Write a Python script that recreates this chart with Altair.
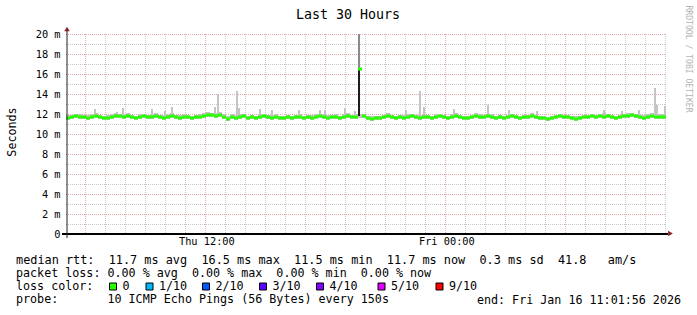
import altair as alt
import pandas as pd

# ---------------- data ----------------
# median RTT in ms, one value per 12-minute step, 30 hours
median = [
    11.6, 11.7, 11.8, 11.7, 11.7, 11.6, 11.7, 11.8, 11.7, 11.6,
    11.6, 11.7, 11.8, 11.8, 11.7, 11.8, 11.7, 11.6, 11.7, 11.8,
    11.7, 11.7, 11.8, 11.7, 11.6, 11.7, 11.8, 11.7, 11.6, 11.7,
    11.7, 11.6, 11.7, 11.7, 11.8, 11.9, 11.9, 11.8, 11.9, 11.7,
    11.5, 11.7, 11.6, 11.7, 11.8, 11.6, 11.7, 11.6, 11.7, 11.8,
    11.7, 11.6, 11.7, 11.6, 11.6, 11.7, 11.6, 11.7, 11.7, 11.6,
    11.7, 11.6, 11.7, 11.8, 11.7, 11.6, 11.7, 11.7, 11.6, 11.7,
    11.8, 11.7, 11.7, 16.5, 11.8, 11.6, 11.5, 11.6, 11.6, 11.7,
    11.8, 11.7, 11.6, 11.7, 11.6, 11.7, 11.8, 11.7, 11.6, 11.7,
    11.7, 11.6, 11.7, 11.8, 11.7, 11.6, 11.7, 11.8, 11.7, 11.6,
    11.6, 11.7, 11.8, 11.7, 11.7, 11.8, 11.7, 11.6, 11.7, 11.6,
    11.7, 11.8, 11.7, 11.6, 11.7, 11.7, 11.8, 11.7, 11.6, 11.6,
    11.5, 11.6, 11.7, 11.8, 11.7, 11.7, 11.6, 11.5, 11.6, 11.7,
    11.7, 11.8, 11.7, 11.8, 11.7, 11.8, 11.7, 11.6, 11.7, 11.8,
    11.8, 11.9, 11.8, 11.7, 11.6, 11.7, 11.8, 11.7, 11.7, 11.7,
]
smoke_lo = [
    11.4, 11.5, 11.6, 11.5, 11.5, 11.4, 11.5, 11.6, 11.5, 11.4,
    11.4, 11.5, 11.6, 11.6, 11.5, 11.6, 11.5, 11.4, 11.5, 11.6,
    11.5, 11.5, 11.6, 11.5, 11.4, 11.5, 11.6, 11.5, 11.4, 11.5,
    11.5, 11.4, 11.5, 11.5, 11.6, 11.7, 11.7, 11.6, 11.7, 11.5,
    11.3, 11.5, 11.4, 11.5, 11.6, 11.4, 11.5, 11.4, 11.5, 11.6,
    11.5, 11.4, 11.5, 11.4, 11.4, 11.5, 11.4, 11.5, 11.5, 11.4,
    11.5, 11.4, 11.5, 11.6, 11.5, 11.4, 11.5, 11.5, 11.4, 11.5,
    11.6, 11.5, 11.5, 11.6, 11.6, 11.4, 11.3, 11.4, 11.4, 11.5,
    11.6, 11.5, 11.4, 11.5, 11.4, 11.5, 11.6, 11.5, 11.4, 11.5,
    11.5, 11.4, 11.5, 11.6, 11.5, 11.4, 11.5, 11.6, 11.5, 11.4,
    11.4, 11.5, 11.6, 11.5, 11.5, 11.6, 11.5, 11.4, 11.5, 11.4,
    11.5, 11.6, 11.5, 11.4, 11.5, 11.5, 11.6, 11.5, 11.4, 11.4,
    11.3, 11.4, 11.5, 11.6, 11.5, 11.5, 11.4, 11.3, 11.4, 11.5,
    11.5, 11.6, 11.5, 11.6, 11.5, 11.6, 11.5, 11.4, 11.5, 11.6,
    11.6, 11.7, 11.6, 11.5, 11.4, 11.5, 11.6, 11.5, 11.5, 11.5,
]
smoke_hi = [
    11.9, 11.9, 12.0, 12.0, 11.9, 11.9, 12.0, 12.1, 11.9, 11.8,
    11.9, 12.0, 12.1, 12.0, 12.0, 12.1, 11.9, 11.8, 12.0, 12.0,
    11.9, 12.0, 12.1, 11.9, 11.9, 12.0, 12.1, 11.9, 11.9, 12.0,
    11.9, 11.8, 11.9, 12.0, 12.1, 12.2, 12.1, 12.1, 12.2, 12.0,
    11.8, 12.0, 11.9, 12.0, 12.0, 11.8, 11.9, 11.8, 12.0, 12.0,
    11.9, 11.9, 12.0, 11.8, 11.8, 11.9, 11.8, 11.9, 12.0, 11.8,
    11.9, 11.9, 12.0, 12.0, 12.0, 11.9, 11.9, 12.0, 11.8, 12.0,
    12.1, 11.9, 12.0, 12.0, 12.0, 11.8, 11.8, 11.8, 11.8, 11.9,
    12.1, 11.9, 11.8, 11.9, 11.9, 12.0, 12.0, 11.9, 11.9, 12.0,
    11.9, 11.8, 12.0, 12.0, 11.9, 11.8, 12.0, 12.1, 11.9, 11.8,
    11.8, 11.9, 12.1, 12.0, 11.9, 12.0, 12.0, 11.8, 11.9, 11.8,
    11.9, 12.0, 11.9, 11.8, 11.9, 11.9, 12.1, 11.9, 11.8, 11.8,
    11.7, 11.8, 11.9, 12.0, 11.9, 11.9, 11.8, 11.8, 11.8, 11.9,
    11.9, 12.0, 11.9, 12.0, 12.1, 12.0, 11.9, 11.8, 11.9, 12.0,
    12.1, 12.1, 12.0, 11.9, 11.9, 12.0, 12.1, 12.0, 12.0, 12.0,
]
# narrow smoke peaks: minutes since start, top of the peak (ms)
peak_minutes = [87, 153, 171, 258, 297, 318, 447, 456, 513, 519, 582, 618, 699,
                762, 777, 837, 867, 1020, 1062, 1074, 1164, 1266, 1329, 1413,
                1614, 1668, 1719, 1767, 1773, 1797]
peak_tops = [12.5, 12.2, 12.6, 12.5, 12.3, 12.7, 12.7, 14.0, 14.3, 12.6, 12.5, 12.4, 12.4,
             12.4, 12.4, 12.6, 12.3, 12.4, 14.3, 12.7, 12.5, 12.9, 12.4, 12.3,
             12.4, 12.3, 12.4, 14.6, 12.9, 12.8]
# the one big outlier
spike_minute = [879]
spike_base = [11.8]
spike_dense_top = [16.5]
spike_max = [20.0]

y_tick_values = [0, 2, 4, 6, 8, 10, 12, 14, 16, 18, 20]
x_tick_labels = ["Thu 12:00", "Fri 00:00"]
x_tick_minutes = [418.07, 1138.07]   # 12:00 and 00:00 after start 05:01:56

loss_labels = ["0", "1/10", "2/10", "3/10", "4/10", "5/10", "9/10"]
loss_colors = ["#26ff00", "#00b8ff", "#0059ff", "#5e00ff", "#7e00ff", "#dd00ff", "#ff0000"]

legend_lines = [
    "median rtt:  11.7 ms avg  16.5 ms max  11.5 ms min  11.7 ms now  0.3 ms sd  41.8   am/s",
    "packet loss: 0.00 % avg  0.00 % max  0.00 % min  0.00 % now",
    "loss color:",
    "probe:       10 ICMP Echo Pings (56 Bytes) every 150s",
]
end_text = "end: Fri Jan 16 11:01:56 2026"
title_text = "Last 30 Hours"
y_title = "Seconds"
watermark = "RRDTOOL / TOBI OETIKER"

# ---------------- layout ----------------
L, T = 66, 34          # plot origin in the page
W, H = 600, 200
MONO = "DejaVu Sans Mono"
STEP = 12              # minutes per sample
legend_square_px = [109.5, 146, 202.5, 259.5, 316.5, 378, 436]

xs = alt.Scale(domain=[0, 1800], nice=False, zero=False)
ys = alt.Scale(domain=[0, 20], nice=False, zero=False)


def X(f, **kw):
    return alt.X(f, type="quantitative", scale=xs, axis=None, **kw)


def Y(f, **kw):
    return alt.Y(f, type="quantitative", scale=ys, axis=None, **kw)


n = len(median)
series = pd.DataFrame({
    "t0": [i * STEP for i in range(n)],
    "t1": [(i + 1) * STEP for i in range(n)],
    "med": median, "lo": smoke_lo, "hi": smoke_hi,
})
peaks = pd.DataFrame({"t": peak_minutes, "top": peak_tops})
spike = pd.DataFrame({"t": spike_minute, "base": spike_base,
                      "dense": spike_dense_top, "max": spike_max})

# grid
hgrid = pd.DataFrame({"v": list(range(1, 21))})
hgrid["major"] = hgrid["v"] % 2 == 0
first_hour = 60 - (1 + 56 / 60)   # 06:00 Thu in minutes after start
vgrid = pd.DataFrame({"t": [first_hour + 60 * k for k in range(30)],
                      "major": [(6 + k) % 6 == 0 for k in range(30)]})

DASH = [1, 1]
h_minor = alt.Chart(hgrid[~hgrid["major"]]).mark_rule(
    color="#c8c8c8", strokeDash=DASH, strokeWidth=1, yOffset=0.5).encode(
    y=Y("v"), x=alt.value(0), x2=alt.value(W))
v_minor = alt.Chart(vgrid[~vgrid["major"]]).mark_rule(
    color="#c8c8c8", strokeDash=DASH, strokeWidth=1, xOffset=0.14).encode(
    x=X("t"), y=alt.value(0), y2=alt.value(H))
h_major = alt.Chart(hgrid[hgrid["major"]]).mark_rule(
    color="#e6a8a8", strokeDash=DASH, strokeWidth=1, yOffset=0.5).encode(
    y=Y("v"), x=alt.value(0), x2=alt.value(W))
v_major = alt.Chart(vgrid[vgrid["major"]]).mark_rule(
    color="#e6a8a8", strokeDash=DASH, strokeWidth=1, xOffset=0.14).encode(
    x=X("t"), y=alt.value(0), y2=alt.value(H))

smoke = alt.Chart(series).mark_rect(color="#c4c4c4").encode(
    x=X("t0"), x2="t1", y=Y("lo"), y2="hi")
peak_marks = alt.Chart(peaks).mark_rule(color="#c4c4c4", strokeWidth=2).encode(
    x=X("t"), y=Y("top"), y2=alt.datum(11.7))
spike_top = alt.Chart(spike).mark_rule(color="#8a8a8a", strokeWidth=2).encode(
    x=X("t"), y=Y("max"), y2="dense")
spike_dense = alt.Chart(spike).mark_rule(color="#1c1c1c", strokeWidth=2).encode(
    x=X("t"), y=Y("base"), y2="dense")
med = alt.Chart(series).transform_calculate(
    a="datum.med - 0.15", b="datum.med + 0.15").mark_rect(color=loss_colors[0]).encode(
    x=X("t0"), x2="t1", y=Y("a:Q"), y2="b:Q")

# axes
x_axis = alt.Chart(pd.DataFrame({"k": [0]})).mark_rule(color="black", strokeWidth=2).encode(
    x=alt.value(-4), x2=alt.value(602), y=alt.value(H))
y_axis = alt.Chart(pd.DataFrame({"k": [0]})).mark_rule(color="#202020", strokeWidth=1).encode(
    x=alt.value(1), y=alt.value(-4), y2=alt.value(H + 4))
arrow_x = alt.Chart(pd.DataFrame({"k": [0]})).mark_point(
    shape="triangle-right", filled=True, size=30, color="#8b2020", opacity=1).encode(
    x=alt.value(604.5), y=alt.value(H - 0.5))
arrow_y = alt.Chart(pd.DataFrame({"k": [0]})).mark_point(
    shape="triangle-up", filled=True, size=30, color="#8b2020", opacity=1).encode(
    x=alt.value(1), y=alt.value(-5))

NB = "\u00a0"
ylab = pd.DataFrame({"v": y_tick_values,
                     "lab": [(f"{v}{NB}m" if v else f"0{NB}{NB}") for v in y_tick_values]})
y_labels = alt.Chart(ylab).mark_text(
    font=MONO, fontSize=10.3, align="right", baseline="middle", color="black", dy=0.5).encode(
    y=Y("v"), x=alt.value(-5.5), text="lab:N")
xlab = pd.DataFrame({"t": x_tick_minutes, "lab": x_tick_labels})
x_labels = alt.Chart(xlab).mark_text(
    font=MONO, fontSize=10.3, align="center", baseline="alphabetic", color="black", dx=1.5).encode(
    x=X("t"), y=alt.value(244.5 - T), text="lab:N")


def txt(s, x, y, size=11.7, align="left", baseline="alphabetic", angle=0, color="black"):
    return alt.Chart(pd.DataFrame({"s": [s.replace(" ", NB)]})).mark_text(
        font=MONO, fontSize=size, align=align, baseline=baseline, angle=angle,
        color=color).encode(text="s:N", x=alt.value(x - L), y=alt.value(y - T))


texts = [
    txt(title_text, 348, 18.5, size=13.3, align="center"),
    txt(y_title, 11.5, 132, align="center", baseline="middle", angle=270),
    txt(watermark, 687.5, 59, size=8.1, align="center", baseline="middle", angle=90,
        color="#b4b4b4"),
    txt(end_text, 681, 303.5, align="right"),
]
for k, line in enumerate(legend_lines):
    texts.append(txt(line, 16, 263.5 + 13.33 * k, size=(11.85 if k == 0 else 11.7)))

leg = pd.DataFrame({"lab": loss_labels, "color": loss_colors,
                    "px": [p - L for p in legend_square_px]})
leg["px2"] = leg["px"] + 7
leg["tx"] = leg["px"] + 13
sq = alt.Chart(leg).mark_rect(stroke="black", strokeWidth=1).encode(
    x=alt.X("px:Q", scale=None), x2="px2:Q",
    y=alt.value(283 - T), y2=alt.value(290 - T),
    fill=alt.Fill("color:N", scale=None))
sq_lab = alt.Chart(leg).mark_text(
    font=MONO, fontSize=11.7, align="left", baseline="alphabetic", color="black").encode(
    x=alt.X("tx:Q", scale=None), y=alt.value(290 - T), text="lab:N")

chart = alt.layer(
    h_minor, v_minor, h_major, v_major,
    smoke, peak_marks, spike_top, spike_dense, med,
    x_axis, y_axis, arrow_x, arrow_y,
    y_labels, x_labels, sq, sq_lab, *texts,
).properties(
    width=W, height=H,
    autosize=alt.AutoSizeParams(type="none"),
    padding={"left": L, "top": T, "right": 697 - L - W, "bottom": 315 - T - H},
    background="white",
).configure_view(strokeWidth=0)

chart.save("out.html", embed_options={"renderer": "svg", "actions": False})
